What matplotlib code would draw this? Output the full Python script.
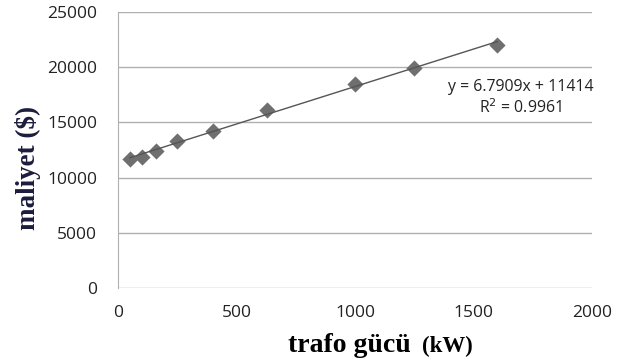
import numpy as np
import matplotlib.pyplot as plt

# trafo gücü (kW) vs maliyet ($)
trafo_kw = [50, 100, 160, 250, 400, 630, 1000, 1250, 1600]
maliyet = [11650, 11900, 12400, 13300, 14250, 16100, 18500, 19950, 22000]

eq_text = "y = 6.7909x + 11414"
r2_text = "R$^2$ = 0.9961"

fig = plt.figure(figsize=(6.26, 3.62), dpi=100)
ax = fig.add_axes([0.1885, 0.2044, 0.757, 0.7625])

ax.scatter(trafo_kw, maliyet, marker='D', s=68, color='#6f6f6f', zorder=3, linewidths=0)

# linear trendline
coef = np.polyfit(trafo_kw, maliyet, 1)
xs = np.array([trafo_kw[0], trafo_kw[-1]])
ax.plot(xs, np.polyval(coef, xs), color='#555555', lw=1.0, zorder=4)

ax.set_xlim(0, 2000)
ax.set_ylim(0, 25000)
ax.set_xticks([0, 500, 1000, 1500, 2000])
ax.set_yticks([0, 5000, 10000, 15000, 20000, 25000])
ax.yaxis.grid(True, color='#b0b0b0', lw=1.0)
ax.set_axisbelow(True)
for s in ['top', 'right', 'bottom']:
    ax.spines[s].set_visible(False)
ax.spines['left'].set_color('#b0b0b0')
ax.tick_params(length=0, labelsize=12.5, labelcolor='#222222')
ax.tick_params(axis='x', pad=12)
ax.tick_params(axis='y', pad=15)
for lab in ax.get_xticklabels() + ax.get_yticklabels():
    lab.set_family('Open Sans')

ax.text(1698, 18200, eq_text, ha='center', va='center', fontsize=11.4, family='Open Sans', color='#222222')
ax.text(1698, 16300, r2_text, ha='center', va='center', fontsize=11.4, family='Open Sans', color='#222222')

# axis titles (two sizes on the x title, like the original)
fig.text(0.656, 0.028, "trafo gücü", ha='right', va='baseline', fontsize=20,
         fontweight='bold', family='Liberation Serif', color='black')
fig.text(0.674, 0.028, "(kW)", ha='left', va='baseline', fontsize=16.5,
         fontweight='bold', family='Liberation Serif', color='black')
fig.text(0.045, 0.537, "maliyet ($)", ha='center', va='center', rotation=90, fontsize=19.5,
         fontweight='bold', family='Liberation Serif', color='#1c1c3c')

fig.savefig("out.png", dpi=100)
